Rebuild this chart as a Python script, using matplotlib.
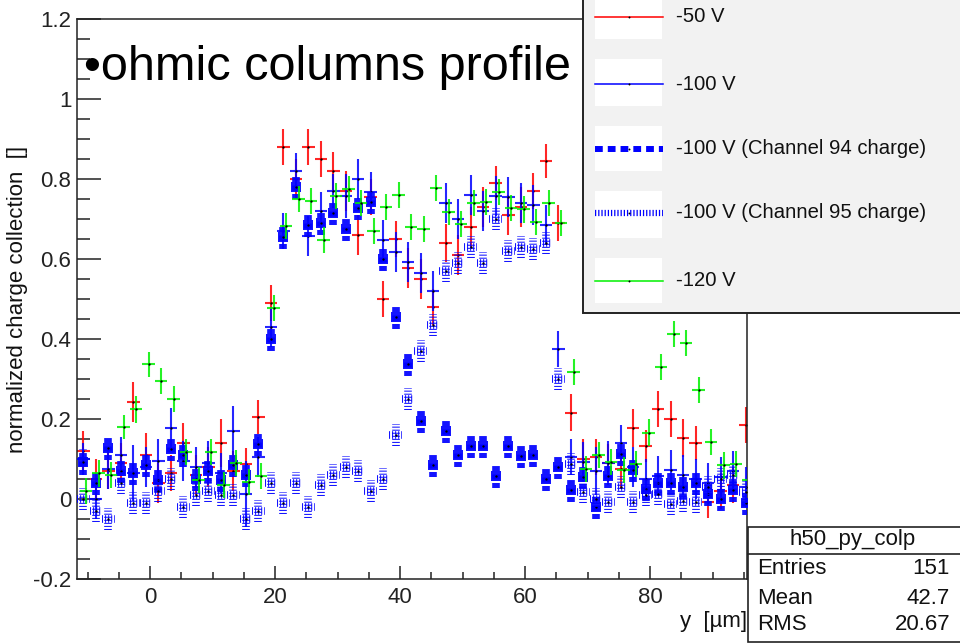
import matplotlib
matplotlib.use('Agg')
import matplotlib.pyplot as plt
from matplotlib.patches import Rectangle
from matplotlib.lines import Line2D

plt.rcParams['font.family'] = ['Liberation Sans', 'DejaVu Sans']
plt.rcParams['lines.scale_dashes'] = False

# bin centres of the scan (um)
y_pos = [-10.7, -8.7, -6.7, -4.7, -2.7, -0.7, 1.3, 3.3, 5.3, 7.3,
         9.3, 11.3, 13.3, 15.3, 17.3, 19.3, 21.3, 23.3, 25.3, 27.3,
         29.3, 31.3, 33.3, 35.3, 37.3, 39.3, 41.3, 43.3, 45.3, 47.3,
         49.3, 51.3, 53.3, 55.3, 57.3, 59.3, 61.3, 63.3, 65.3, 67.3,
         69.3, 71.3, 73.3, 75.3, 77.3, 79.3, 81.3, 83.3, 85.3, 87.3,
         89.3, 91.3, 93.3, 95.3]
half_bin = 1.0
green_shift = 0.45

v50 = [0.12, 0.05, 0.07, 0.09, 0.243, 0.11, 0.04, 0.064, 0.14, 0.06,
       0.08, 0.14, 0.07, 0.087, 0.205, 0.49, 0.88, 0.80, 0.88, 0.85,
       0.82, 0.77, 0.66, 0.756, 0.50, 0.65, 0.577, 0.55, 0.48, 0.64,
       0.61, 0.68, 0.73, 0.79, 0.71, 0.73, 0.77, 0.845, 0.69, 0.216,
       0.10, 0.105, 0.09, 0.075, 0.178, 0.133, 0.224, 0.20, 0.152, 0.14,
       -0.007, 0.02, 0.035, 0.186]
e50 = [0.05, 0.05, 0.045, 0.05, 0.05, 0.055, 0.05, 0.045, 0.05, 0.05,
       0.05, 0.06, 0.05, 0.04, 0.043, 0.045, 0.046, 0.05, 0.045, 0.045,
       0.048, 0.05, 0.05, 0.045, 0.046, 0.045, 0.05, 0.05, 0.045, 0.047,
       0.05, 0.05, 0.05, 0.042, 0.05, 0.05, 0.044, 0.042, 0.046, 0.047,
       0.05, 0.046, 0.047, 0.05, 0.047, 0.04, 0.045, 0.045, 0.048, 0.043,
       0.04, 0.045, 0.045, 0.045]

v100 = [0.10, 0.0, 0.074, 0.11, 0.064, 0.08, 0.095, 0.178, 0.095, 0.08,
        0.09, 0.064, 0.171, 0.012, 0.106, 0.43, 0.67, 0.82, 0.657, 0.72,
        0.77, 0.758, 0.80, 0.768, 0.647, 0.617, 0.593, 0.564, 0.52, 0.74,
        0.70, 0.76, 0.72, 0.757, 0.754, 0.74, 0.735, 0.685, 0.374, 0.105,
        0.093, 0.07, 0.09, 0.14, 0.08, 0.05, 0.058, 0.072, 0.06, 0.05,
        0.04, 0.056, 0.07, 0.03]
e100 = [0.04, 0.05, 0.05, 0.045, 0.07, 0.05, 0.055, 0.05, 0.05, 0.05,
        0.055, 0.05, 0.062, 0.083, 0.05, 0.05, 0.046, 0.044, 0.05, 0.048,
        0.042, 0.055, 0.05, 0.05, 0.05, 0.05, 0.05, 0.05, 0.05, 0.05,
        0.05, 0.05, 0.05, 0.05, 0.05, 0.05, 0.05, 0.05, 0.045, 0.045,
        0.05, 0.06, 0.055, 0.045, 0.05, 0.05, 0.05, 0.05, 0.05, 0.05,
        0.05, 0.05, 0.05, 0.05]

v94 = [0.093, 0.04, 0.127, 0.07, 0.064, 0.085, 0.048, 0.125, 0.11, 0.05,
       0.07, 0.048, 0.085, 0.06, 0.137, 0.40, 0.656, 0.78, 0.686, 0.69,
       0.716, 0.675, 0.727, 0.743, 0.60, 0.454, 0.337, 0.196, 0.085, 0.17,
       0.11, 0.133, 0.133, 0.058, 0.133, 0.107, 0.11, 0.05, 0.08, 0.022,
       0.055, -0.02, 0.058, 0.112, 0.072, 0.025, 0.04, 0.04, 0.03, 0.04,
       0.012, 0.0, 0.023, -0.01]
e94 = [0.033, 0.03, 0.03, 0.03, 0.03, 0.03, 0.03, 0.03, 0.03, 0.03,
       0.03, 0.03, 0.03, 0.03, 0.03, 0.03, 0.03, 0.03, 0.03, 0.03,
       0.03, 0.03, 0.03, 0.03, 0.03, 0.03, 0.03, 0.03, 0.03, 0.03,
       0.03, 0.03, 0.03, 0.03, 0.03, 0.03, 0.03, 0.03, 0.03, 0.03,
       0.03, 0.03, 0.03, 0.03, 0.03, 0.03, 0.03, 0.03, 0.03, 0.03,
       0.03, 0.03, 0.03, 0.03]

v95 = [0.0, -0.03, -0.05, 0.04, -0.01, -0.01, 0.02, 0.05, -0.02, 0.01,
       0.02, 0.01, 0.01, -0.05, -0.03, 0.04, -0.01, 0.04, -0.02, 0.035,
       0.06, 0.08, 0.07, 0.02, 0.05, 0.16, 0.25, 0.37, 0.435, 0.57,
       0.59, 0.63, 0.59, 0.70, 0.62, 0.63, 0.625, 0.64, 0.30, 0.088,
       0.018, 0.0, -0.007, 0.03, -0.008, 0.01, 0.012, -0.012, -0.005, -0.007,
       0.03, 0.05, 0.06, 0.018]
e95 = [0.027, 0.027, 0.027, 0.027, 0.027, 0.027, 0.027, 0.027, 0.027, 0.027,
       0.027, 0.027, 0.027, 0.027, 0.027, 0.027, 0.027, 0.027, 0.027, 0.027,
       0.027, 0.027, 0.027, 0.027, 0.027, 0.027, 0.027, 0.027, 0.027, 0.027,
       0.027, 0.027, 0.027, 0.027, 0.027, 0.027, 0.027, 0.027, 0.027, 0.027,
       0.027, 0.027, 0.027, 0.027, 0.027, 0.027, 0.027, 0.027, 0.027, 0.027,
       0.027, 0.027, 0.027, 0.027]

v120 = [0.02, 0.064, 0.06, 0.18, 0.224, 0.337, 0.295, 0.25, 0.118, 0.048,
        0.118, 0.035, 0.09, 0.043, 0.058, 0.478, 0.683, 0.75, 0.745, 0.648,
        0.757, 0.775, 0.74, 0.67, 0.73, 0.76, 0.68, 0.675, 0.777, 0.717,
        0.687, 0.74, 0.743, 0.768, 0.727, 0.724, 0.693, 0.74, 0.69, 0.318,
        0.075, 0.11, 0.093, 0.072, 0.087, 0.166, 0.33, 0.412, 0.39, 0.272,
        0.143, 0.084, 0.087, 0.047]
e120 = [0.033, 0.033, 0.033, 0.031, 0.033, 0.031, 0.033, 0.033, 0.033, 0.033,
        0.033, 0.033, 0.033, 0.033, 0.033, 0.033, 0.033, 0.033, 0.033, 0.033,
        0.033, 0.033, 0.033, 0.033, 0.033, 0.033, 0.033, 0.033, 0.033, 0.033,
        0.033, 0.033, 0.033, 0.033, 0.033, 0.033, 0.033, 0.033, 0.033, 0.033,
        0.033, 0.033, 0.033, 0.033, 0.033, 0.033, 0.033, 0.033, 0.033, 0.033,
        0.033, 0.033, 0.033, 0.033]

legend_labels = ['-50 V', '-100 V', '-100 V (Channel 94 charge)',
                 '-100 V (Channel 95 charge)', '-120 V']
stats_name = 'h50_py_colp'
stats_rows = [('Entries', '151'), ('Mean', '42.7'), ('RMS', '20.67')]

RED, BLUE, GREEN = '#ff0000', '#0000ff', '#00f000'
DASH94 = (0, (3.6, 2.5))
DASH95 = (0, (0.75, 1.45))

W, H = 960, 644
fig = plt.figure(figsize=(W / 100, H / 100), dpi=100)
ax = fig.add_axes([77 / W, 1 - 579 / H, 670 / W, 560 / H])


def fx(px):
    return px / W


def fy(py):
    return 1 - py / H


def cross(x, y, e, col, z):
    ax.errorbar(x, y, yerr=e, xerr=half_bin, fmt='none', ecolor=col,
                elinewidth=1.5, capsize=0, zorder=z, alpha=0.85)
    ax.plot(x, y, 'o', ms=1.7, mew=0, color='k', zorder=z + 0.1)


cross(y_pos, v50, e50, RED, 2)
cross(y_pos, v100, e100, BLUE, 3)

eb = ax.errorbar(y_pos, v94, yerr=e94, fmt='s', ms=7, mew=0, color=BLUE,
                 ecolor=BLUE, elinewidth=5.5, capsize=0, zorder=4, alpha=0.92)
for lc in eb[2]:
    lc.set_linestyle(DASH94)
ax.plot(y_pos, v94, 'o', ms=1.7, mew=0, color='k', zorder=4.1)

eb = ax.errorbar(y_pos, v95, yerr=e95, xerr=half_bin, fmt='none', ecolor=BLUE,
                 elinewidth=5.5, capsize=0, zorder=5, alpha=0.92)
for lc in eb[2]:
    lc.set_linestyle(DASH95)
ax.plot(y_pos, v95, 'o', ms=1.7, mew=0, color='k', zorder=5.1)

g_pos = [p + green_shift for p in y_pos]
cross(g_pos, v120, e120, GREEN, 6)

ax.set_xlim(-11.7, 95.5)
ax.set_ylim(-0.2, 1.2)
ax.set_xticks([0, 20, 40, 60, 80])
ax.set_xticks([-10, -5, 5, 10, 15, 25, 30, 35, 45, 50, 55, 65, 70, 75, 85, 90, 95], minor=True)
ax.set_yticks([-0.2, 0, 0.2, 0.4, 0.6, 0.8, 1, 1.2])
ax.set_yticklabels(['-0.2', '0', '0.2', '0.4', '0.6', '0.8', '1', '1.2'])
ax.set_yticks([-0.15, -0.1, -0.05, 0.05, 0.1, 0.15, 0.25, 0.3, 0.35, 0.45, 0.5,
               0.55, 0.65, 0.7, 0.75, 0.85, 0.9, 0.95, 1.05, 1.1, 1.15], minor=True)
ax.tick_params(axis='both', which='both', direction='in', colors='#222222',
               labelsize=16, width=1.1)
ax.tick_params(axis='y', which='major', length=17, pad=4)
ax.tick_params(axis='y', which='minor', length=9.5)
ax.tick_params(axis='x', which='major', length=9.5, pad=6)
ax.tick_params(axis='x', which='minor', length=5)
for s in ax.spines.values():
    s.set_linewidth(1.1)
    s.set_color('#222222')

fig.text(fx(18), fy(299), 'normalized charge collection  []', rotation=90,
         ha='center', va='center', fontsize=16, color='#111111')
fig.text(fx(747), fy(622), 'y  [\u00b5m]', ha='right', va='center',
         fontsize=16, color='#111111')
fig.text(fx(84), fy(80), '\u2022ohmic columns profile', ha='left',
         va='baseline', fontsize=35, color='black')

# legend box
fig.add_artist(Rectangle((fx(583), fy(313)), 1.0, 1.0, transform=fig.transFigure,
                         facecolor='#f2f2f2', edgecolor='#222222', lw=1.4,
                         zorder=20, clip_on=False))
rows_y = [17, 84, 149, 213, 281]
box_tops = [-5, 59, 126, 191, 258]
box_bots = [39, 106, 171, 238, 303]
for i, lab in enumerate(legend_labels):
    fig.add_artist(Rectangle((fx(595), fy(box_bots[i])), fx(662) - fx(595),
                             fy(box_tops[i]) - fy(box_bots[i]),
                             transform=fig.transFigure, facecolor='white',
                             edgecolor='none', zorder=21))
    yy = fy(rows_y[i])
    if i == 0:
        ln = Line2D([fx(595), fx(663)], [yy, yy], color=RED, lw=1.1)
    elif i == 1:
        ln = Line2D([fx(595), fx(663)], [yy, yy], color=BLUE, lw=1.1)
    elif i == 2:
        ln = Line2D([fx(595), fx(663)], [yy, yy], color=BLUE, lw=4.3,
                    dashes=(5.6, 3.6))
    elif i == 3:
        ln = Line2D([fx(595), fx(663)], [yy, yy], color=BLUE, lw=4.5,
                    dashes=(0.9, 1.4))
    else:
        ln = Line2D([fx(595), fx(663)], [yy, yy], color=GREEN, lw=1.1)
    ln.set_transform(fig.transFigure)
    ln.set_zorder(22)
    fig.add_artist(ln)
    fig.add_artist(Line2D([fx(629)], [yy], marker='o', ms=1.4, mew=0, color='k',
                          transform=fig.transFigure, zorder=23))
    fig.text(fx(676), yy, lab, ha='left', va='center', fontsize=14.6,
             color='#111111', zorder=24)

# statistics box
fig.add_artist(Rectangle((fx(748), fy(642)), 1.0, fy(527) - fy(642),
                         transform=fig.transFigure, facecolor='white',
                         edgecolor='#222222', lw=1.2, zorder=20, clip_on=False))
fig.add_artist(Line2D([fx(748), 1.0], [fy(554), fy(554)], color='#222222', lw=1.2,
                      transform=fig.transFigure, zorder=21))
fig.text(fx(853), fy(540), stats_name, ha='center', va='center', fontsize=16,
         color='#111111', zorder=22)
for (name, val), yy in zip(stats_rows, [569, 598, 625]):
    fig.text(fx(757), fy(yy), name, ha='left', va='center', fontsize=16,
             color='#111111', zorder=22)
    fig.text(fx(950), fy(yy), val, ha='right', va='center', fontsize=16,
             color='#111111', zorder=22)

fig.savefig('out.png', dpi=100)
